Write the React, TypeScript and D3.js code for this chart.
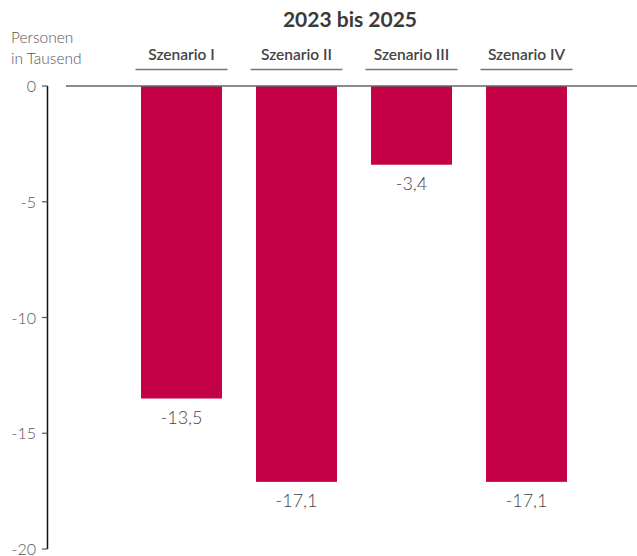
import React from "react";
import * as d3 from "d3";

const categories = ["Szenario I", "Szenario II", "Szenario III", "Szenario IV"];
const values = [-13.5, -17.1, -3.4, -17.1];
const valueLabels = ["-13,5", "-17,1", "-3,4", "-17,1"];
const yTicks = [0, -5, -10, -15, -20];
const title = "2023 bis 2025";
const unitLines = ["Personen", "in Tausend"];

const W = 637;
const H = 556;
const FONT = "Lato, 'Open Sans', sans-serif";
const BAR = "#C40046";

export default function App() {
  const y = d3.scaleLinear().domain([0, -20]).range([86, 549]);
  const x = d3.scaleBand().domain(categories).range([124, 584]).paddingInner(0.296).paddingOuter(0.148);
  const bw = x.bandwidth();
  return (
    <svg width={W} height={H} style={{ position: "absolute", left: 0, top: 0 }} fontFamily={FONT}>
      <text x={350} y={27} textAnchor="middle" fontSize={21} fontWeight="bold" fill="#3a3a3a">{title}</text>
      {unitLines.map((t, i) => (
        <text key={t} x={11} y={43 + i * 20.5} fontSize={15.5} fontWeight={300} fill="#555">{t}</text>
      ))}
      {categories.map((c) => {
        const cx = (x(c) as number) + bw / 2;
        return (
          <g key={c}>
            <text x={cx} y={60} textAnchor="middle" fontSize={15.5} fontWeight={600} fill="#444">{c}</text>
            <line x1={cx - 46} x2={cx + 46} y1={69.5} y2={69.5} stroke="#777" strokeWidth={1.5} />
          </g>
        );
      })}
      {categories.map((c, i) => (
        <g key={"b" + c}>
          <rect x={x(c)} y={y(0)} width={bw} height={y(values[i]) - y(0)} fill={BAR} />
          <text x={(x(c) as number) + bw / 2} y={y(values[i]) + 25.5} textAnchor="middle" fontSize={18} fontWeight={300} fill="#444">{valueLabels[i]}</text>
        </g>
      ))}
      <line x1={66} x2={W} y1={y(0)} y2={y(0)} stroke="#666" strokeWidth={1.5} />
      <line x1={47.5} x2={47.5} y1={y(0)} y2={y(-20)} stroke="#111" strokeWidth={1.5} />
      {yTicks.map((t) => (
        <g key={t}>
          <line x1={42} x2={47.5} y1={y(t)} y2={y(t)} stroke="#555" strokeWidth={1.2} />
          <text x={36} y={y(t) + 6} textAnchor="end" fontSize={16} fontWeight={300} fill="#555">{t}</text>
        </g>
      ))}
    </svg>
  );
}
